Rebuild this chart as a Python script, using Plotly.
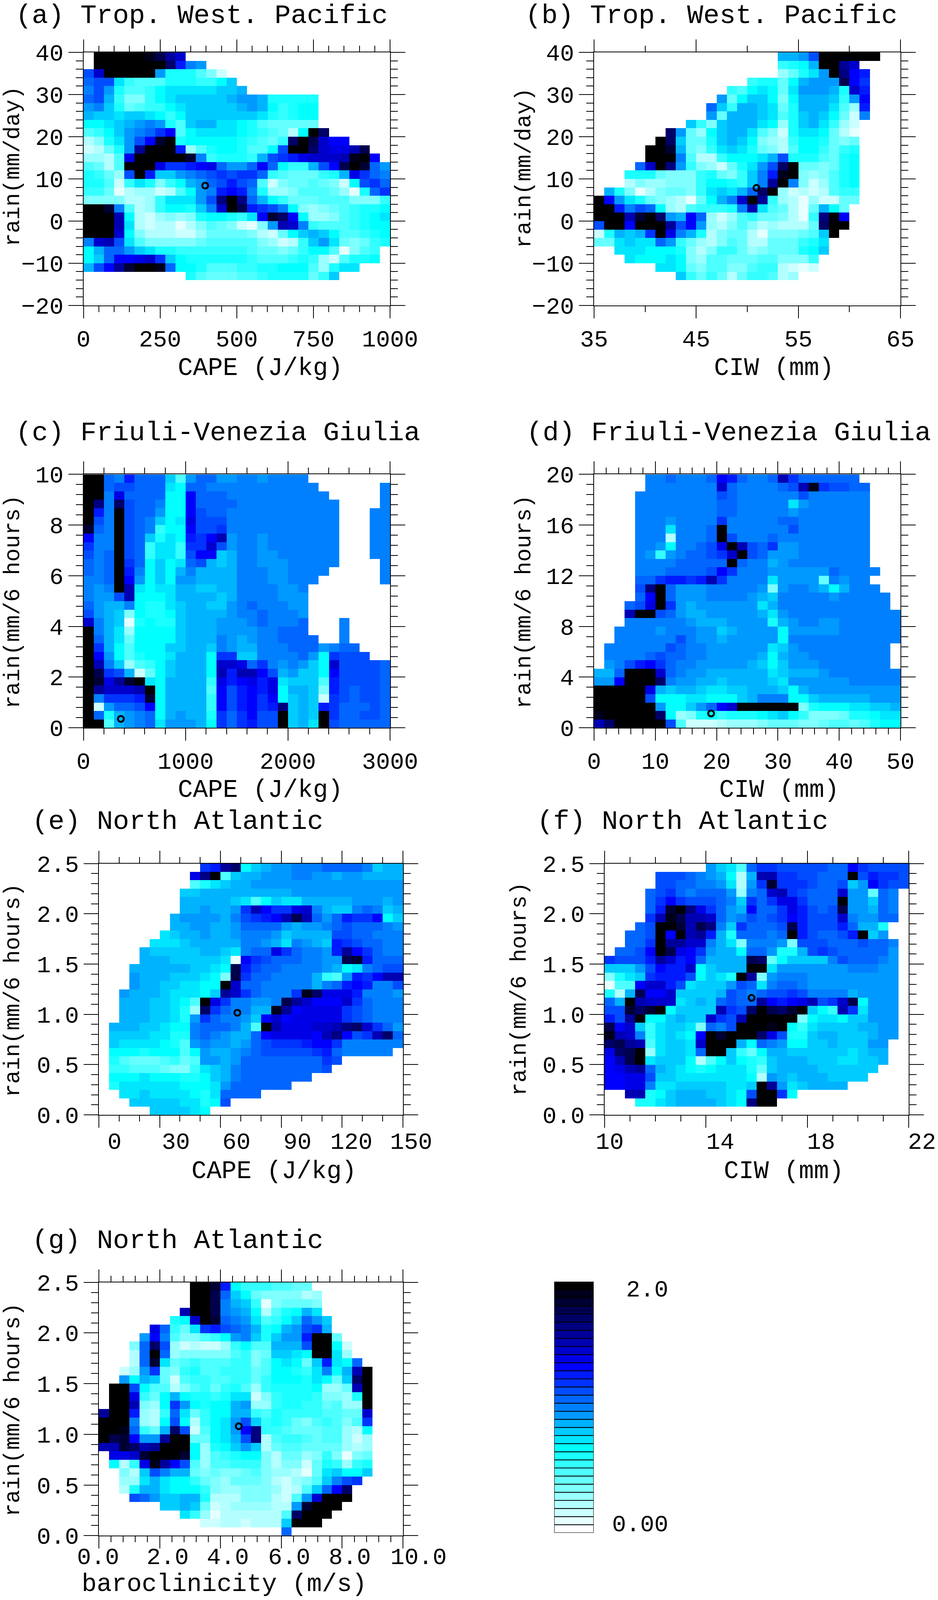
import plotly.graph_objects as go

# All positions below are page pixels of the 2400x4951 reference; they become fractions of the
# figure, so the figure fills whatever browser window it is opened in and no panel is cut off.
W, H = 2400, 4951
LEVEL_CHARS = "0123456789abcdefghijklmnopqrstu"
LEVEL_COLORS = [
    "#ffffff", "#e6ffff", "#ccffff", "#b3ffff", "#99ffff", "#80ffff", "#66ffff", "#4dffff",
    "#33ffff", "#1affff", "#00ffff", "#00e6ff", "#00ccff", "#00b3ff", "#0099ff", "#0080ff",
    "#0066ff", "#004dff", "#0033ff", "#001aff", "#0000ff", "#0000e6", "#0000cc", "#0000b3",
    "#000099", "#000080", "#000066", "#00004d", "#000033", "#00001a", "#000000",
]

# Each string is one row of 30 cells, top row first; one character = colour level (0-u), "." = no data.
CELLS_A = [
    ".uuuuutrom",
    ".uuuuuuuqjfe",
    "hmuuuuue999752",
    "ghhb877799988ac",
    "fhe9778abbbbbccd",
    "ghd8558abcccccdeed99999",
    "efc96788abcccccdeda89aa",
    "dccbccba8acccccccb989aa",
    "aabcdefe97cddbba9766666",
    "78acefgik7abbbba98763auq",
    "359behksu9aaaaa98768qurmkk",
    "2369eouuuj479aa977ahuuqmllnr",
    "4437luuuuusf89998dhijlmmmntuk",
    "7637uuuliijklgeegkga88dhkrusge",
    "9864hujccefghihiig8766689dligf",
    "99728b958adeghjhg725667652ahig",
    "8861344237aefjkjf94457776419gi",
    "55553348bbbehpupgda86667775558",
    "uusf7348aa9cfmurjihfa54567899a",
    "uuuna3245459aa98bksqka445789ab",
    "uuunb3233135765215enmf877789aa",
    "uuuma533322466665326acdca7789a",
    "fmnhb75555567777754238ceb65689",
    "adggecb998888888766568aa71578",
    "acgkklmica999999877789842799a",
    "dhkosuutgaa97778899aaa749bb",
    "..........97666778999968c",
    "",
    "",
    "",
]
CELLS_B = [
    "..................ddehuuuuuu",
    "..................89aduuom",
    "..................469beupkj",
    "...............8996adeeerki",
    ".............87aba6beeed9mj",
    "............e6acca5adddc8ek",
    "...........gc8ddcb69dddb74j",
    "...........e6dddcb79cdca62f",
    ".........c85cdddba49cdb842",
    ".......qe64acddb7529bba631",
    "......uqc669cdca5438aa9656",
    ".....uusd658bcb96537aa8689",
    ".....uuuf7338aaabdh999769a",
    "....gmupe854269behqu66569a",
    "...999655589658cfjtu54579a",
    "...35445558aa98cfouf52479a",
    ".d951356658bcbdgqu42323788",
    "ukeb9654316adfmuo843142266",
    "uujfhga4378889fnb76316da6",
    "uuunsuqedkg42478665318puk",
    "huukuuuohke43575343336quu",
    "29dcdiulfd935663155567cu",
    "66bcbbge86435763366689b",
    "..bbbaaa9535886456669ac",
    "...baaaba5477666775558",
    "......bba6577557883212",
    "........c86863688734",
    "",
    "",
    "",
]
CELLS_C = [
    "uugfjgggc7eggeeffeffff",
    "uughhgggbaggfffffffffff......f",
    "uuflggggaakgggffffffffff.....f",
    "upfqhggfaakggggffffffffff....f",
    "ujfuhggeaakhggfffffffffff...ff",
    "uhfuhgfcablhhhfffffffffff...ff",
    "sgfuhgf8aakhhifffffffffff...ff",
    "kffuhgc9bajikneffefffffff...ff",
    "iffuhg8bb8iimheffefffffff...ff",
    "hfguhg8bb8hkkcdffeeffffff...ff",
    "gfguigacabghdcdffeeefffff....f",
    "gfgujfacadfddddfffeeffff.....f",
    "ffgukeacaeeddddfffeefff......f",
    "fefunbabbddccddffffeef",
    "feehnaaabddddcdffffeee",
    "geddfa99bcddccefgfffee",
    "hedc5a99acddddeffgfffe",
    "mfdc19a99cdddeeefgfffg...f",
    "ufdb4aaaacdddeeeeffggg...f",
    "ugdb6aaaacdddfedeffgggg..f",
    "uida7aaaccddcfeddfffgggefgg",
    "ukea79aabdddaiiccffffgeaihhh",
    "unfc478acdddammlgifefecamhhhhg",
    "urihd26acdddanjnnkhdeccakhhhhg",
    "uslosubadddd8ljkljlbccc7jhhhhg",
    "uommmnuadddd7khjkjladdc5jhghhg",
    "ufiiijsadddd8khjkikacdc2ihghhg",
    "u2egghkadddd8khjkijpcdcjiggghg",
    "ug9defgadedd9igikhhucdcuigghhg",
    "uu7defgbeeedaigijhhucdbuhggggg",
]
CELLS_D = [
    ".....ffgfffgkjgffgnigggggg",
    ".....fffffffmgffffghntihhgg",
    "....ffffffffhgffffffhffffff",
    "....ffffffffggfffffbeffffff",
    "....ffffffffggfffffefffffff",
    "....fffeffffifffffggfffffff",
    "....fffbfffguffffffhfffffff",
    "....fff3fffguhfffgfffffffff",
    "....ffeaffghlunhgieefffffff",
    "....fe8efgghimuhgeeefffffff",
    "....ffffgggggugffdeffffffff",
    "....fffgggghkifffeeeeeegffff",
    "....ggijjijniffffbeeee6feff",
    "....hpugeeefffffe5effedadfff",
    "....gkugeeeffffedcfffffefffff",
    "...ghluiedeeeeeebdfffffffffff",
    "...nuuhgeddeeeeedbefffffffffff",
    "...ffffffedddeeee9deffeeffffff",
    "..ffffefffeecdeeeeaeeeeeffffff",
    "..ffffffhfeedeeeeeafffffffffff",
    ".ffffffhgffeeeeeebcefffffffff.",
    ".ffffghggffeeeeedadeeffffffff.",
    ".efhjkigffeeeeedcaceeefffffff.",
    "ddguuumgfeeddddddbcdddefffffff",
    "eekuuuqfeeddcddddcbeeeeeefffff",
    "uuuuuldcddcbbccdddcadeeeeeeeee",
    "uuuuuhaaabbaaacdfffaacdddddeee",
    "uuuuuueaacegkmuuuuuu59aaabbccd",
    "tuuuuuqa459a8999abca8555699abb",
    "nquuuuuh72223444566655677679aa",
]
CELLS_E = [
    "..........ijoqacdeefffggggfcdd",
    ".........lpu7cddeeeffeedeedddd",
    ".........79bcddeeeeeeeeeeeeeee",
    "........ccdddddddddeeeeeeeeeee",
    "........dddddcb7acbbdddddeeede",
    "........ddeddeinkiilmfdccfgfcd",
    ".......deeeedfhijknrngegjiikac",
    ".......ddeeddeggggedeefghgggfe",
    "......bcddeddefffecddddhhggfff",
    ".....bbbcdddddffedbfedcjihggff",
    "....dcccccddcbfggligffejokigff",
    "....dddcccccb1kihgggffeersjggg",
    "...ddddddccbarjhggffffedabfghh",
    "...edddcccba5riggffffd87ejiknn",
    "...eddccbbaaumggfffffdfgjkjffh",
    "..edddcbbbacomigfffitqllljfffe",
    "..dddccba7uliffeefromkkkmigfff",
    "..dddccb94qigffddtokllllihgfff",
    "..dddccb9eigffeckmklllllihgfff",
    ".dddccbaafgggfd7unlllmmnpqmige",
    ".ccccbb99fgfeddgkllllknpkhinqg",
    ".cbbbba97efeedeghiiijkkiffffff",
    ".aaa9aaa7aeddefghhhhhijgfffff.",
    ".976667867eedeggggggggih",
    ".887776558bcdfggggggggh",
    ".aaabaaa99acdfggggggg",
    ".9bbbbbbaaabegggggg",
    "..bbcbbbba9bgggg",
    "...cccccbb9ah",
    ".....ccccba",
]
CELLS_F = [
    "..........ecb7giihhhhhggkihhhh",
    ".....hhhgfeda3dnniihhggguhjiih",
    ".....hhggffeb3eisiiihgghcekihh",
    "....ghigfggge4fgmnihgggmee6gf",
    "....gikihhhgfcigilligggueecgf",
    "....gjsupligedkggiljhghreedgf",
    "....intrnnmgefhghikjhhhmfeegg",
    "...ghuusnrpfciggghrjhhhjgdd9",
    "..gghukunojd9gggfgujhgghjuce",
    "..ggiuoommfdb5fffe5hhhggghggf",
    ".gghkurlkieddagge99dhihggggge",
    "ihhhjomjkgddddrq6accccfhgggfe",
    "cccehkjjmacddduubeeeeeeefffee",
    "59bcijjjhacb9uo5efffeeeeeeeee",
    "177kmmjhbcccehgbfggfeeeeeeeee",
    "93drkkmccccdhgfghhihffffdeeee",
    "gdunmmmbcdcghggokjklnhimraeee",
    "hhsqsuaccccnihqurqsuca8nibeee",
    "jhouaacdccmihnuuuuu5abbacceee",
    "rkmc8bccb5gfhuuutua8bccccddee",
    "tnmf8bcbakusuuuqlh99cddcccdee",
    "qron7bccbmuuudagfeaaccdcccee",
    "lqru4bccbguuc86addccccccbcdd",
    "knrubccca37aca98cdddcccbbccd",
    "klnogdcba9abbb96cddddcccccc",
    "kkllhccbbbbbbba3edcdddcccc",
    "kkllfbbcccccbbcuoebcdddd",
    "..nn9acdddccbahuuia",
    "...99bcddddcbapuu",
    "",
]
CELLS_G = [
    ".........uusja8887766",
    ".........uurgca6555534",
    ".........uurfdc8156665",
    "........nuurfeda379adb",
    ".......9amusgfeb78acgec",
    ".....lg86bijhgfd9adehid",
    "....ekf75578aefc9ceejuu6",
    "...5gqh4232248a77dddhuua2",
    "...3gug4555557856ccbauub4",
    "...3gsb6787778857aba6cjbag",
    "..24ei65897788867aa98bfadnu",
    "..eadc62788778868aaa9ba6cqu",
    ".uuha7735786897489999a446nu",
    ".uul86ada9989bb25899985549u",
    ".uun54aiea9aade44899886744u",
    "ouuj438gb68aadd87988887766m",
    "uuuf43aha38abehc8986578757i",
    "uutg86dqh27abekp8876667743a",
    "urskeeouu66abdhp37887677424",
    "nnsqnouuua49acec36776666434",
    ".llmsuuusa4789aa53664585156",
    ".a38ltokh747788853552698489",
    "..53chfdd6565567544316bcaac",
    "..44bdbaa8654666532457cfhi",
    "..39ddbaaa85445554237cgkq",
    "...hgeccdd9333555327emuuu",
    "......ccdc623444433esuuu",
    "........b8413333337quuu",
    "..........22332333cuuu",
    "..................g",
]

PANEL_TITLES = ["(a) Trop. West. Pacific", "(b) Trop. West. Pacific", "(c) Friuli-Venezia Giulia",
                "(d) Friuli-Venezia Giulia", "(e) North Atlantic", "(f) North Atlantic", "(g) North Atlantic"]
X_TITLES = ["CAPE (J/kg)", "CIW (mm)", "CAPE (J/kg)", "CIW (mm)", "CAPE (J/kg)", "CIW (mm)", "baroclinicity (m/s)"]
Y_TITLES = ["rain(mm/day)", "rain(mm/day)", "rain(mm/6 hours)", "rain(mm/6 hours)",
            "rain(mm/6 hours)", "rain(mm/6 hours)", "rain(mm/6 hours)"]
X_RANGES = [(0, 1000), (35, 65), (0, 3000), (0, 50), (0, 150), (10, 22), (0, 10)]
Y_RANGES = [(-20, 40), (-20, 40), (0, 10), (0, 20), (0, 2.5), (0, 2.5), (0, 2.5)]
X_DTICK = [(250, 50), (10, 5), (1000, 200), (10, 2), (30, 10), (4, 1), (2, 0.4)]
Y_DTICK = [(10, 2), (10, 2), (2, 0.4), (4, 0.8), (0.5, 0.1), (0.5, 0.1), (0.5, 0.1)]
Y_FORMAT = ["d", "d", "d", "d", ".1f", ".1f", ".1f"]
MARKER_X = [397, 50.9, 366, 19.1, 68.3, 15.8, 4.6]
MARKER_Y = [8.4, 7.86, 0.35, 1.13, 1.016, 1.164, 1.08]
ALL_CELLS = [CELLS_A, CELLS_B, CELLS_C, CELLS_D, CELLS_E, CELLS_F, CELLS_G]

# panel boxes in reference pixels: left, right, top, bottom
BOXES = [(213.5, 998, 162, 945), (1520, 2304, 162, 945), (213.5, 998, 1468, 2252), (1520, 2304, 1468, 2252),
         (253, 1031, 2672, 3450), (1547, 2325, 2672, 3450), (253, 1031, 3968, 4752)]
CBAR_BOX = (1418, 1519, 3966, 4743)
TITLE_POS = [(38, 50), (1342, 50), (38, 1341), (1345, 1341), (80, 2543), (1372, 2543), (80, 3840)]
XLAB_POS = [(666, 1140), (1980, 1140), (666, 2445), (1993, 2445), (701, 3625), (2005, 3625), (574, 4903)]
YLAB_POS = [(34, 515), (1342, 520), (34, 1863), (1342, 1863), (34, 3065), (1330, 3061), (34, 4363)]
# panels e-g: the x labels sit off their ticks in the reference
SHIFTED_X_LABELS = {
    4: (3535, [("0", 293), ("30", 450), ("60", 605), ("90", 761), ("120", 899), ("150", 1052)]),
    5: (3535, [("10", 1560), ("14", 1843), ("18", 2101), ("22", 2359)]),
    6: (4820, [("0.0", 251), ("2.0", 429), ("4.0", 583), ("6.0", 740), ("8.0", 895), ("10.0", 1071)]),
}

FONT = "Liberation Mono"
TICK_SIZE = 60
TITLE_SIZE = 69
XLAB_SIZE = 64
YLAB_SIZE = 57
CBAR_LABELS = [("2.0", 1712, 3992), ("0.00", 1712, 4719)]


def px(x):
    return x / W


def py(y):
    return 1 - y / H


def decode(rows):
    out = []
    for row in rows:
        row = row.ljust(30, ".")[:30]
        out.append([None if c == "." else LEVEL_CHARS.index(c) / 15 for c in row])
    return out[::-1]


def text_item(text, x, y, size, **kw):
    return dict(xref="paper", yref="paper", showarrow=False, text=text, x=px(x), y=py(y), yanchor="middle",
                font=dict(family=FONT, size=size, color="black"), **kw)


n = len(LEVEL_COLORS)
colorscale = []
for i, c in enumerate(LEVEL_COLORS):
    colorscale += [[i / n, c], [(i + 1) / n, c]]

fig = go.Figure()
layout = dict(autosize=True, margin=dict(l=0, r=0, t=0, b=0, pad=0, autoexpand=False), paper_bgcolor="white",
              plot_bgcolor="white", showlegend=False, barmode="overlay",
              font=dict(family=FONT, color="black", size=TICK_SIZE))
ann = []

for i, rows in enumerate(ALL_CELLS):
    sfx = "" if i == 0 else str(i + 1)
    x0, x1 = X_RANGES[i]
    y0, y1 = Y_RANGES[i]
    dx, dy = (x1 - x0) / 30, (y1 - y0) / 30
    fig.add_trace(go.Heatmap(
        z=decode(rows),
        x=[x0 + (k + 0.5) * dx for k in range(30)],
        y=[y0 + (k + 0.5) * dy for k in range(30)],
        zmin=0, zmax=2, colorscale=colorscale, showscale=False, hoverinfo="skip",
        xaxis="x" + sfx, yaxis="y" + sfx))
    fig.add_trace(go.Scatter(
        x=[MARKER_X[i]], y=[MARKER_Y[i]], mode="markers",
        marker=dict(symbol="circle-open", size=15, color="black", line=dict(width=5, color="black")),
        hoverinfo="skip", xaxis="x" + sfx, yaxis="y" + sfx))
    l, r, t, b = BOXES[i]
    shifted = i in SHIFTED_X_LABELS
    common = dict(showgrid=False, zeroline=False, showline=True, linecolor="black", linewidth=2,
                  mirror="ticks", ticks="outside", tickwidth=2, tickcolor="black",
                  tickfont=dict(family=FONT, size=TICK_SIZE, color="black"))
    layout["xaxis" + sfx] = dict(
        common, ticklen=31, domain=[px(l), px(r)], range=[x0, x1], anchor="y" + sfx, tick0=x0, dtick=X_DTICK[i][0],
        showticklabels=not shifted,
        minor=dict(tick0=x0, dtick=X_DTICK[i][1], ticks="outside", ticklen=15, tickwidth=2, tickcolor="black"))
    layout["yaxis" + sfx] = dict(
        common, ticklen=37, domain=[py(b), py(t)], range=[y0, y1], anchor="x" + sfx, tick0=y0, dtick=Y_DTICK[i][0],
        tickformat=Y_FORMAT[i],
        minor=dict(tick0=y0, dtick=Y_DTICK[i][1], ticks="outside", ticklen=18, tickwidth=2, tickcolor="black"))
    tx, ty = TITLE_POS[i]
    ann.append(text_item(PANEL_TITLES[i], tx, ty, TITLE_SIZE, xanchor="left"))
    tx, ty = XLAB_POS[i]
    ann.append(text_item(X_TITLES[i], tx, ty, XLAB_SIZE, xanchor="center"))
    tx, ty = YLAB_POS[i]
    ann.append(text_item(Y_TITLES[i], tx, ty, YLAB_SIZE, xanchor="center", textangle=-90))
    if shifted:
        ly, items = SHIFTED_X_LABELS[i]
        for text, lx in items:
            ann.append(text_item(text, lx, ly, TICK_SIZE, xanchor="center"))

# colour key: one outlined box per level
cb_axis = dict(showgrid=False, zeroline=False, showticklabels=False, ticks="", showline=False)
fig.add_trace(go.Bar(
    x=[0] * n, y=[2 / n] * n, base=[k * 2 / n for k in range(n)], width=1,
    marker=dict(color=LEVEL_COLORS, line=dict(color="black", width=2)),
    hoverinfo="skip", xaxis="x8", yaxis="y8"))
l, r, t, b = CBAR_BOX
layout["xaxis8"] = dict(cb_axis, domain=[px(l), px(r)], range=[-0.5, 0.5], anchor="y8")
layout["yaxis8"] = dict(cb_axis, domain=[py(b), py(t)], range=[0, 2], anchor="x8")
for text, lx, ly in CBAR_LABELS:
    ann.append(text_item(text, lx, ly, TICK_SIZE, xanchor="right"))

layout["annotations"] = ann
fig.update_layout(**layout)
# fill the window exactly, whatever size it really has
fit = ("document.body.style.margin='0';"
       "var gd=document.getElementById('{plot_id}');"
       "Plotly.relayout(gd,{width:window.innerWidth,height:window.innerHeight});")
fig.write_html("out.html", config={"displayModeBar": False}, default_width="100vw", default_height="100vh",
               post_script=fit)
